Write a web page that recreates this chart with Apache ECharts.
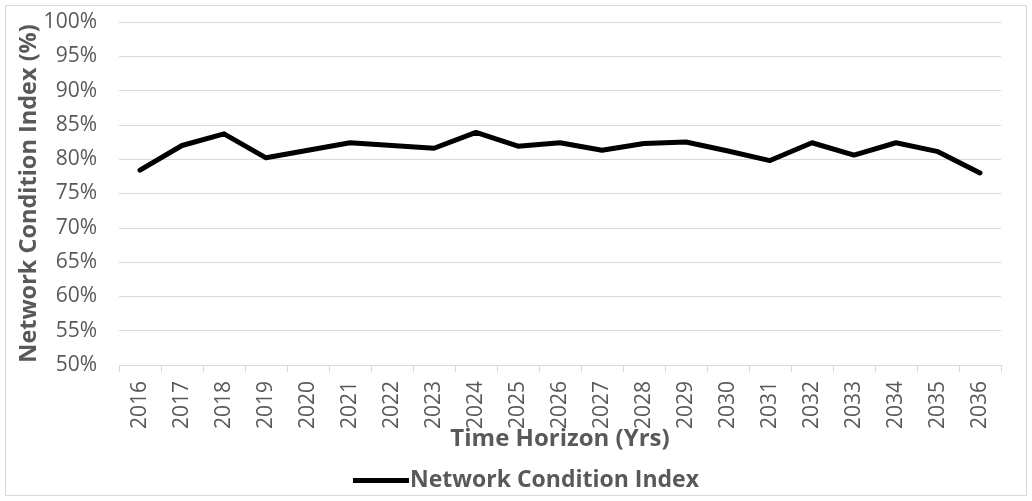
<!DOCTYPE html>
<html>
<head>
<meta charset="utf-8">
<script src="https://cdn.jsdelivr.net/npm/echarts@6/dist/echarts.min.js"></script>
<style>
  html, body { margin: 0; padding: 0; background: #fff; }
  #chart { width: 1032px; height: 501px; }
</style>
</head>
<body>
<div id="chart"></div>
<script>
// Network condition index per year (%)
const years = ['2016','2017','2018','2019','2020','2021','2022','2023','2024','2025','2026',
               '2027','2028','2029','2030','2031','2032','2033','2034','2035','2036'];
const conditionIndex = [78.4, 82.0, 83.7, 80.2, 81.3, 82.4, 82.0, 81.6, 83.9, 81.9, 82.4,
                        81.3, 82.3, 82.5, 81.2, 79.8, 82.4, 80.6, 82.4, 81.1, 78.0];
const seriesName = 'Network Condition Index';
const yTitle = 'Network Condition Index (%)';
const xTitle = 'Time Horizon (Yrs)';

const FONT = '"Open Sans", sans-serif';
const TEXT = '#595959';

const chart = echarts.init(document.getElementById('chart'), null, { renderer: 'canvas' });
chart.setOption({
  backgroundColor: '#fff',
  animation: false,
  graphic: [{
    type: 'rect',
    shape: { x: 5.5, y: 5.5, width: 1021, height: 490 },
    style: { fill: 'none', stroke: '#d9d9d9', lineWidth: 1 },
    silent: true
  }],
  grid: { left: 119, right: 31, top: 22, bottom: 136 },
  legend: {
    data: [seriesName],
    top: 464,
    left: 348,
    itemWidth: 56,
    itemHeight: 5,
    itemGap: 4,
    icon: 'rect',
    textStyle: { fontFamily: FONT, fontSize: 23, fontWeight: 'bold', color: TEXT, padding: [0, 0, 0, -4] }
  },
  xAxis: {
    type: 'category',
    data: years,
    boundaryGap: true,
    name: xTitle,
    nameLocation: 'middle',
    nameMoveOverlap: false,
    nameGap: 62,
    nameTextStyle: { fontFamily: FONT, fontSize: 24, fontWeight: 'bold', color: TEXT },
    axisLine: { lineStyle: { color: '#d9d9d9', width: 1 } },
    axisTick: { show: true, alignWithLabel: false, length: 7, lineStyle: { color: '#d9d9d9' } },
    axisLabel: { rotate: 90, margin: 16, fontFamily: FONT, fontSize: 21, color: TEXT, interval: 0 }
  },
  yAxis: {
    type: 'value',
    min: 50,
    max: 100,
    interval: 5,
    name: yTitle,
    nameLocation: 'middle',
    nameMoveOverlap: false,
    nameGap: 78,
    nameTextStyle: { fontFamily: FONT, fontSize: 23.5, fontWeight: 'bold', color: TEXT },
    axisLine: { show: false },
    axisTick: { show: false },
    splitLine: { lineStyle: { color: '#d9d9d9', width: 1 } },
    axisLabel: {
      margin: 22,
      fontFamily: FONT, fontSize: 21, color: TEXT,
      formatter: v => v + '%'
    }
  },
  series: [{
    name: seriesName,
    type: 'line',
    data: conditionIndex,
    symbol: 'none',
    lineStyle: { color: '#000', width: 5, cap: 'round', join: 'round' },
    itemStyle: { color: '#000' }
  }]
});
</script>
</body>
</html>
